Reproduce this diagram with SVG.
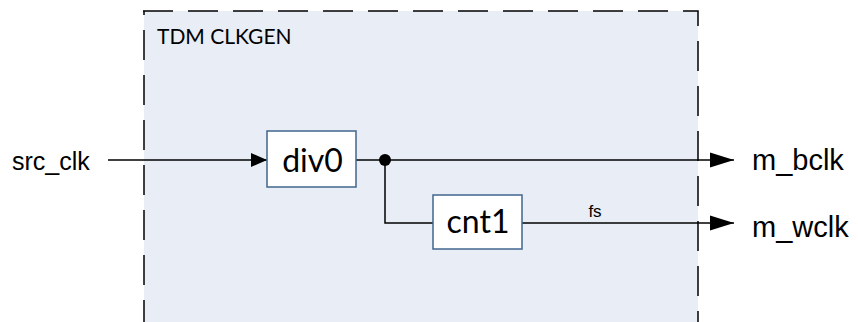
<svg xmlns="http://www.w3.org/2000/svg" width="858" height="322" viewBox="0 0 858 322">
<defs>
<style>
.frame{fill:none;stroke:#000;stroke-width:1.5;stroke-dasharray:30 15}
.blk{fill:#fff;stroke:#41668F;stroke-width:1.5}
.wire{fill:none;stroke:#000;stroke-width:1.5}
.cal{font-family:Lato,"Open Sans",sans-serif;fill:#000}
.ar{font-family:"Liberation Sans",Arial,sans-serif;fill:#000}
</style>
<marker id="ah" markerWidth="24" markerHeight="16" refX="24" refY="8" orient="auto" markerUnits="userSpaceOnUse">
<path d="M0,0.5 L24,8 L0,15.5 Z" fill="#000"/>
</marker>
<marker id="ahs" markerWidth="16" markerHeight="14" refX="16" refY="7" orient="auto" markerUnits="userSpaceOnUse">
<path d="M0,0 L16,7 L0,14 Z" fill="#000"/>
</marker>
</defs>
<rect width="858" height="322" fill="#fff"/>
<g id="tdm_clkgen">
<rect x="144" y="11" width="554" height="320" fill="#E9EDF5"/>
<path class="frame" d="M143,11 L698,11 L698,330"/>
<path class="frame" d="M144,330 L144,11"/>
<text class="cal" x="157" y="44" font-size="21">TDM CLKGEN</text>
</g>
<g id="connectors">
<path class="wire" d="M108,160 L267,160" marker-end="url(#ahs)"/>
<path class="wire" d="M356,160 L734,160" marker-end="url(#ah)"/>
<path class="wire" d="M385,160 L385,223 L433,223"/>
<path class="wire" d="M522,223 L734,223" marker-end="url(#ah)"/>
<circle cx="385" cy="160" r="6" fill="#000"/>
<text class="ar" x="595" y="217" font-size="17" text-anchor="middle">fs</text>
</g>
<g id="src_clk"><text class="ar" x="12" y="170" font-size="25">src_clk</text></g>
<g id="div0">
<rect class="blk" x="267" y="131" width="89" height="56"/>
<text class="cal" x="312.5" y="172" font-size="32" text-anchor="middle">div0</text>
</g>
<g id="cnt1">
<rect class="blk" x="433" y="195" width="89" height="54"/>
<text class="cal" x="478" y="233" font-size="32" text-anchor="middle">cnt1</text>
</g>
<g id="m_bclk"><text class="ar" x="752" y="170" font-size="29">m_bclk</text></g>
<g id="m_wclk"><text class="ar" x="752" y="237" font-size="29">m_wclk</text></g>
</svg>
